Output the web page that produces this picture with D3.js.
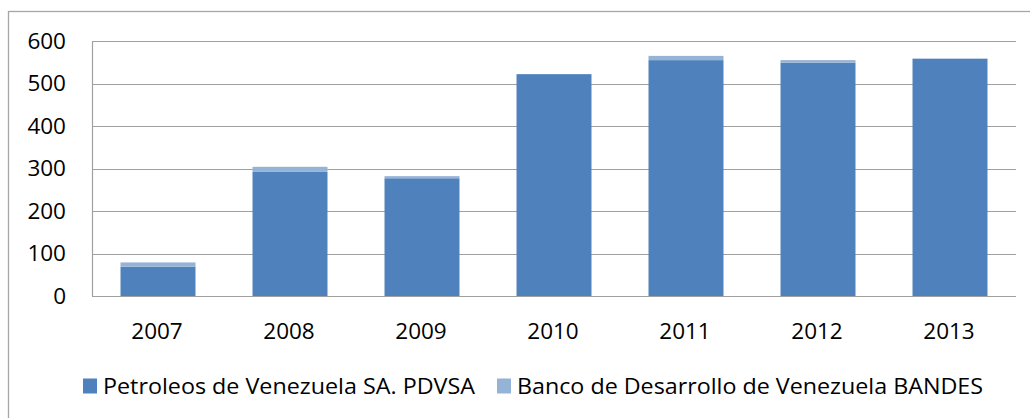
<!DOCTYPE html>
<html><head><meta charset="utf-8">
<script src="https://cdn.jsdelivr.net/npm/d3@7"></script>
<style>html,body{margin:0;padding:0;background:#fff;overflow:hidden}</style>
</head><body>
<svg id="c" width="1030" height="418"></svg>
<script>
const categories = ["2007","2008","2009","2010","2011","2012","2013"];
const pdvsa = [69, 292, 277, 522, 555, 549, 558];
const bandes = [10, 12, 5, 0, 10, 6, 1];
const seriesNames = ["Petroleos de Venezuela SA. PDVSA", "Banco de Desarrollo de Venezuela BANDES"];
const yTicks = [0,100,200,300,400,500,600];
const colors = ["#4F81BD", "#95B3D7"];

const svg = d3.select("#c");
const font = "'Open Sans', sans-serif";
// outer chart border
svg.append("rect").attr("x",8.5).attr("y",11.5).attr("width",1040).attr("height",420)
  .attr("fill","none").attr("stroke","#a6a6a6").attr("stroke-width",1.3);

const L=92, R=1016, T=41, B=296;
const x = d3.scaleBand().domain(categories).range([L,R]).paddingInner(0.432).paddingOuter(0.216);
const y = d3.scaleLinear().domain([0,600]).range([B,T]);

const data = categories.map((c,i)=>({cat:c, pdvsa:pdvsa[i], bandes:bandes[i]}));
const stack = d3.stack().keys(["pdvsa","bandes"])(data);

// gridlines
svg.append("g").selectAll("line").data(yTicks.filter(t=>t>0)).join("line")
  .attr("x1",L).attr("x2",R).attr("y1",d=>Math.round(y(d))+0.5).attr("y2",d=>Math.round(y(d))+0.5)
  .attr("stroke","#a0a0a0").attr("stroke-width",1.2);

// bars
svg.append("g").selectAll("g").data(stack).join("g").attr("fill",(d,i)=>colors[i])
  .selectAll("rect").data(d=>d).join("rect")
  .attr("x",d=>x(d.data.cat)).attr("width",x.bandwidth())
  .attr("y",d=>y(d[1])).attr("height",d=>Math.max(0,y(d[0])-y(d[1])));

// axes lines
svg.append("line").attr("x1",L+0.5).attr("x2",L+0.5).attr("y1",T).attr("y2",B).attr("stroke","#a0a0a0").attr("stroke-width",1.2);
svg.append("line").attr("x1",L).attr("x2",R).attr("y1",B+0.5).attr("y2",B+0.5).attr("stroke","#a0a0a0").attr("stroke-width",1.2);

// y tick labels
const yAxis = d3.axisLeft(y).tickValues(yTicks).tickSize(0).tickPadding(26);
const ya = svg.append("g").attr("transform",`translate(${L},0)`).call(yAxis);
ya.select(".domain").remove();
ya.selectAll("text").attr("font-family",font).attr("font-size",22.5).attr("fill","#000");

// x tick labels
const xAxis = d3.axisBottom(x).tickSize(0).tickPadding(27);
const xa = svg.append("g").attr("transform",`translate(-1,${B})`).call(xAxis);
xa.select(".domain").remove();
xa.selectAll("text").attr("font-family",font).attr("font-size",22.5).attr("fill","#000");

// legend
const legX = [83, 497];
const legW = [372, 466];
const lg = svg.append("g");
seriesNames.forEach((n,i)=>{
  lg.append("rect").attr("x",legX[i]).attr("y",378.5).attr("width",14).attr("height",15).attr("fill",colors[i]);
  lg.append("text").attr("x",legX[i]+20).attr("y",394).attr("font-family",font).attr("font-size",22)
    .attr("textLength",legW[i]).attr("lengthAdjust","spacingAndGlyphs").attr("fill","#000").text(n);
});
</script>
</body></html>
